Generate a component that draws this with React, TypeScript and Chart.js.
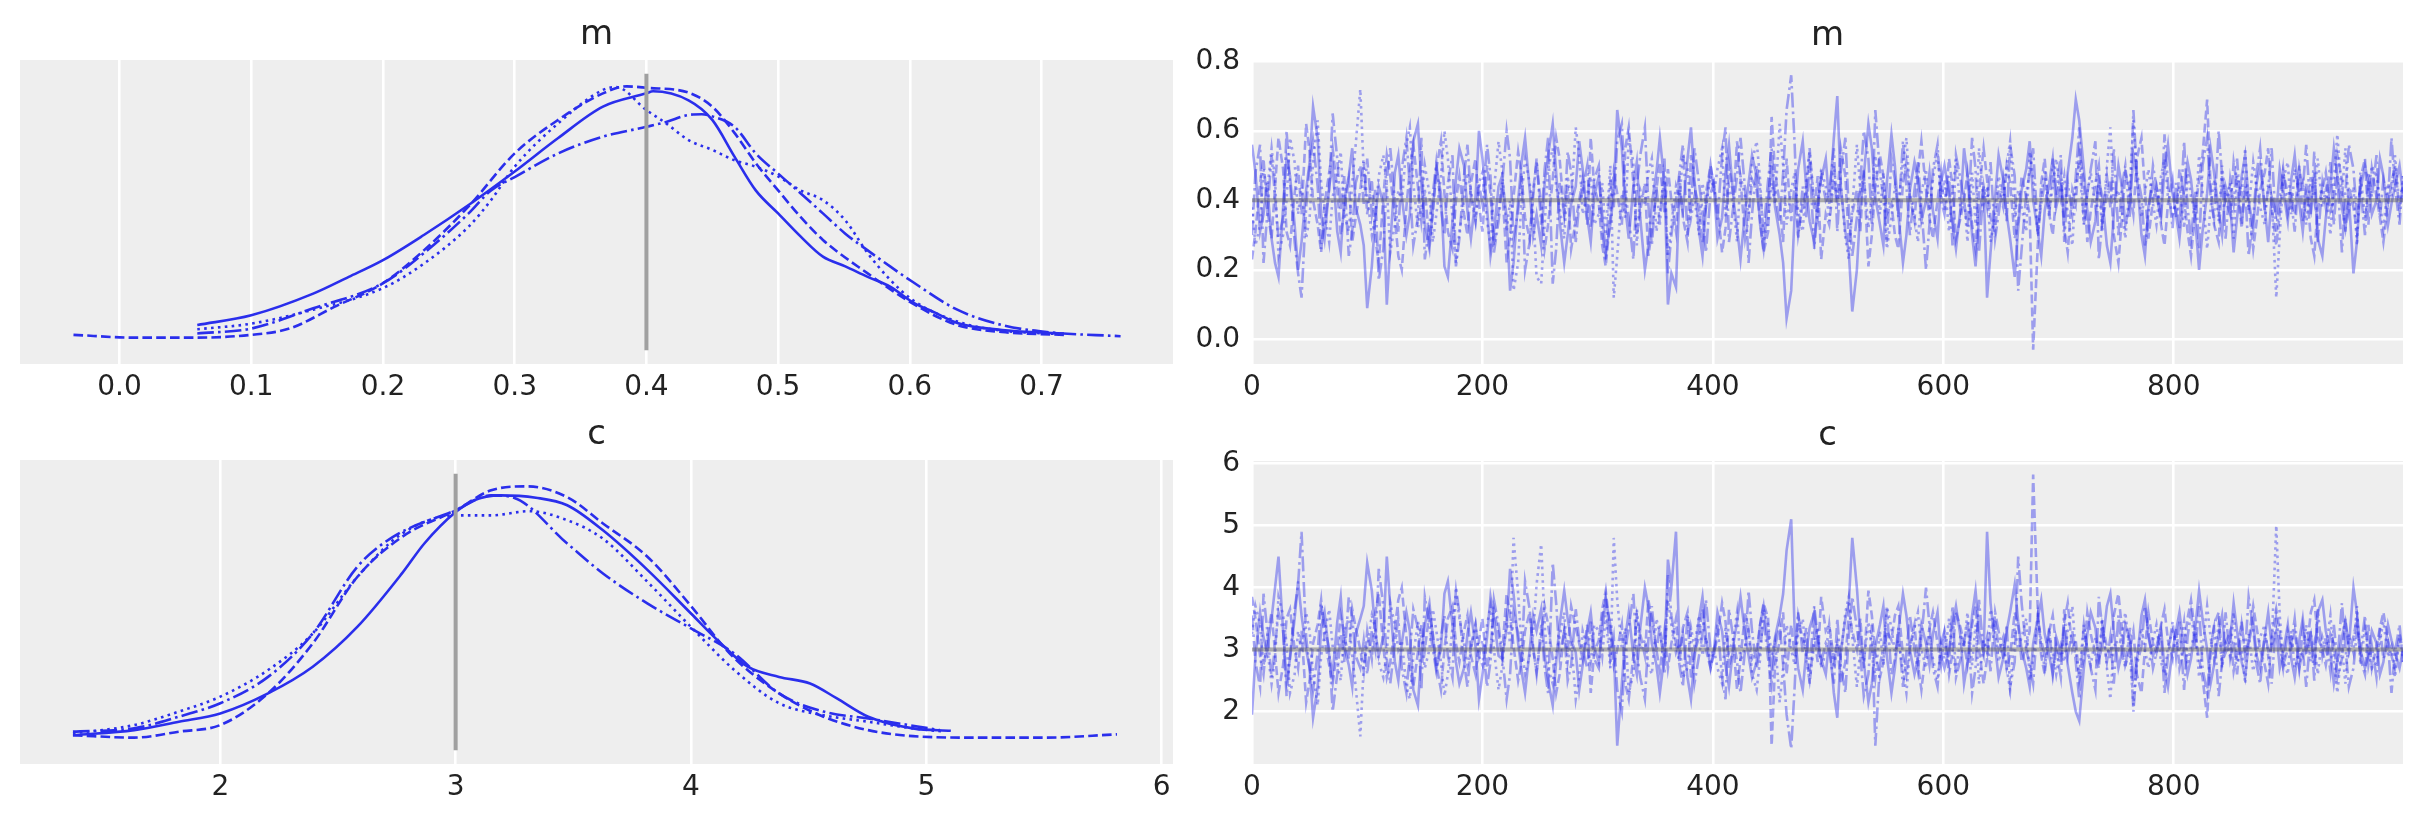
import React, { useEffect, useRef } from "react";
import { Chart, registerables } from "chart.js";

Chart.register(...registerables);

// ---------------- KDE of m (4 chains) ----------------
const kdeMX0 = [0.059, 0.10, 0.147, 0.174, 0.20, 0.231, 0.265, 0.30, 0.333, 0.367, 0.40, 0.405, 0.432, 0.45, 0.467, 0.483, 0.50, 0.517, 0.534, 0.551, 0.568, 0.585, 0.602, 0.62, 0.636, 0.67, 0.704, 0.717];
const kdeMY0 = [0.18, 0.32, 0.63, 0.87, 1.11, 1.47, 1.90, 2.38, 2.86, 3.31, 3.50, 3.53, 3.40, 3.12, 2.59, 2.11, 1.78, 1.45, 1.16, 1.02, 0.87, 0.73, 0.51, 0.35, 0.21, 0.11, 0.07, 0.06];
const kdeMX1 = [-0.035, 0.011, 0.059, 0.10, 0.129, 0.163, 0.20, 0.231, 0.265, 0.30, 0.333, 0.367, 0.385, 0.40, 0.432, 0.45, 0.467, 0.483, 0.50, 0.517, 0.534, 0.568, 0.602, 0.636, 0.67, 0.717];
const kdeMY1 = [0.04, 0.0, 0.0, 0.04, 0.13, 0.44, 0.78, 1.25, 1.88, 2.64, 3.12, 3.50, 3.60, 3.58, 3.51, 3.31, 2.93, 2.50, 2.11, 1.73, 1.40, 0.92, 0.49, 0.18, 0.08, 0.04];
const kdeMX2 = [0.059, 0.10, 0.147, 0.20, 0.231, 0.265, 0.282, 0.30, 0.333, 0.367, 0.377, 0.40, 0.415, 0.432, 0.45, 0.467, 0.483, 0.50, 0.517, 0.534, 0.551, 0.568, 0.585, 0.602, 0.636, 0.67, 0.704, 0.717];
const kdeMY2 = [0.12, 0.20, 0.40, 0.71, 1.06, 1.59, 1.97, 2.45, 3.07, 3.55, 3.59, 3.26, 3.07, 2.83, 2.69, 2.54, 2.45, 2.31, 2.11, 1.97, 1.68, 1.21, 0.83, 0.54, 0.23, 0.10, 0.06, 0.05];
const kdeMX3 = [0.059, 0.10, 0.147, 0.20, 0.231, 0.265, 0.282, 0.30, 0.333, 0.367, 0.40, 0.415, 0.432, 0.442, 0.45, 0.467, 0.483, 0.50, 0.517, 0.534, 0.551, 0.568, 0.585, 0.602, 0.636, 0.67, 0.704, 0.76];
const kdeMY3 = [0.06, 0.13, 0.42, 0.78, 1.21, 1.78, 2.11, 2.30, 2.64, 2.88, 3.02, 3.09, 3.19, 3.20, 3.17, 3.02, 2.64, 2.35, 2.07, 1.78, 1.49, 1.25, 1.02, 0.80, 0.40, 0.18, 0.08, 0.02];

// ---------------- KDE of c (4 chains) ----------------
const kdeCX0 = [1.374, 1.634, 1.824, 2.0, 2.203, 2.393, 2.582, 2.772, 2.867, 3.0, 3.076, 3.19, 3.341, 3.474, 3.626, 3.816, 4.0, 4.127, 4.241, 4.374, 4.506, 4.62, 4.753, 4.943, 5.104];
const kdeCY0 = [0.008, 0.025, 0.053, 0.081, 0.148, 0.237, 0.370, 0.549, 0.649, 0.754, 0.793, 0.810, 0.802, 0.777, 0.693, 0.560, 0.415, 0.315, 0.237, 0.203, 0.181, 0.131, 0.070, 0.031, 0.023];
const kdeCX1 = [1.374, 1.634, 1.824, 2.0, 2.203, 2.393, 2.582, 2.772, 3.0, 3.151, 3.303, 3.474, 3.626, 3.816, 4.0, 4.165, 4.374, 4.563, 4.753, 4.943, 5.227, 5.512, 5.81];
const kdeCY1 = [0.008, 0.0, 0.02, 0.042, 0.148, 0.315, 0.537, 0.671, 0.760, 0.827, 0.840, 0.804, 0.716, 0.604, 0.440, 0.281, 0.148, 0.070, 0.025, 0.005, 0.0, 0.0, 0.011];
const kdeCX2 = [1.374, 1.634, 1.824, 2.0, 2.203, 2.393, 2.582, 2.772, 3.0, 3.151, 3.313, 3.474, 3.626, 3.816, 4.0, 4.184, 4.374, 4.563, 4.753, 4.943, 5.075];
const kdeCY2 = [0.014, 0.042, 0.087, 0.137, 0.226, 0.348, 0.537, 0.682, 0.743, 0.743, 0.757, 0.727, 0.665, 0.52, 0.37, 0.226, 0.115, 0.075, 0.053, 0.031, 0.020];
const kdeCX3 = [1.374, 1.634, 1.824, 2.0, 2.203, 2.393, 2.582, 2.734, 3.0, 3.151, 3.247, 3.474, 3.626, 3.816, 4.0, 4.184, 4.374, 4.563, 4.753, 5.057];
const kdeCY3 = [0.020, 0.031, 0.070, 0.115, 0.203, 0.348, 0.571, 0.671, 0.760, 0.810, 0.802, 0.649, 0.549, 0.448, 0.365, 0.281, 0.148, 0.087, 0.064, 0.025];

// ---------------- Trace of m (sampled draws, 4 chains) ----------------
const traceM0 = [
  .56,.48,.31,.36,.45,.29,.22,.18,.38,.52,.47,.33,.20,.28,.43,.51,.67,.58,.36,.29,.44,.50,.31,.25,.40,.47,.55,.38,.33,.27,
  .09,.21,.35,.44,.39,.10,.27,.48,.53,.41,.30,.36,.57,.62,.45,.33,.26,.38,.49,.42,.21,.18,.34,.46,.55,.50,.37,.29,.41,.60,
  .52,.38,.24,.31,.44,.47,.35,.14,.22,.40,.51,.58,.43,.30,.36,.27,.45,.53,.62,.48,.34,.22,.30,.39,.44,.57,.49,.35,.28,.41,
  .47,.36,.25,.33,.42,.66,.55,.38,.29,.44,.51,.35,.20,.27,.39,.48,.58,.45,.10,.19,.15,.43,.37,.52,.61,.46,.31,.24,.38,.50,
  .43,.29,.35,.48,.56,.40,.32,.23,.37,.45,.53,.47,.33,.26,.41,.50,.38,.30,.22,.06,.14,.36,.49,.57,.44,.34,.28,.40,.46,.52,
  .39,.58,.70,.44,.31,.25,.08,.20,.38,.47,.62,.55,.41,.33,.27,.45,.59,.50,.36,.22,.30,.43,.51,.46,.34,.40,.48,.37,.29,.45,
  .50,.42,.33,.26,.38,.55,.47,.30,.21,.35,.44,.12,.25,.41,.53,.46,.36,.29,.18,.32,.43,.49,.57,.40,.31,.24,.37,.45,.52,.38,
  .44,.35,.48,.58,.69,.63,.49,.37,.28,.34,.46,.41,.27,.22,.36,.50,.44,.33,.39,.53,.47,.30,.24,.38,.45,.41,.35,.49,.56,.42,
  .36,.29,.43,.51,.46,.33,.20,.31,.42,.55,.48,.37,.30,.44,.39,.25,.35,.47,.53,.40,.32,.45,.50,.38,.28,.41,.36,.49,.43,.34,
  .46,.53,.39,.31,.42,.37,.48,.29,.24,.35,.44,.55,.47,.38,.32,.41,.19,.28,.43,.50,.45,.36,.40,.52,.47,.33,.39,.44,.50,.42,
];
const traceM1 = [
  .23,.31,.45,.52,.38,.29,.44,.58,.49,.31,.27,.42,.50,.36,.62,.54,.40,.33,.25,.39,.48,.55,.43,.30,.37,.46,.28,.35,.43,.51,
  .36,.46,.29,.22,.41,.53,.47,.35,.24,.20,.38,.49,.56,.44,.34,.43,.28,.36,.49,.57,.42,.31,.26,.40,.47,.36,.30,.45,.52,.39,
  .31,.50,.42,.27,.37,.45,.22,.30,.41,.54,.47,.35,.29,.43,.51,.38,.26,.33,.46,.58,.52,.36,.44,.26,.34,.40,.46,.33,.58,.44,
  .39,.27,.21,.35,.48,.42,.33,.55,.61,.45,.30,.37,.45,.24,.31,.43,.51,.36,.49,.40,.31,.47,.35,.28,.53,.44,.38,.28,.42,.50,
  .44,.38,.25,.32,.50,.41,.57,.46,.29,.35,.46,.43,.34,.25,.31,.64,.48,.39,.28,.52,.34,.45,.30,.39,.42,.55,.37,.47,.23,.36,
  .33,.46,.40,.55,.47,.28,.36,.43,.31,.49,.21,.30,.44,.53,.47,.36,.39,.30,.26,.45,.51,.41,.34,.48,.57,.43,.35,.29,.40,.48,
  .37,.52,.44,.29,.35,.40,.48,.33,.26,.42,.55,.46,.35,.31,.43,.38,.50,.45,.29,.34,.47,.41,.36,-.03,.27,.45,.52,.36,.30,.41,
  .47,.32,.25,.43,.39,.54,.46,.28,.37,.45,.50,.34,.41,.46,.30,.22,.35,.48,.43,.36,.52,.58,.43,.29,.40,.44,.33,.27,.39,.46,
  .35,.49,.41,.31,.24,.38,.46,.53,.69,.44,.33,.28,.47,.40,.36,.51,.44,.32,.45,.39,.26,.34,.43,.48,.55,.38,.27,.36,.48,.42,
  .42,.36,.50,.34,.45,.29,.24,.38,.43,.48,.37,.40,.53,.46,.31,.44,.38,.31,.46,.52,.33,.49,.41,.35,.28,.39,.45,.50,.37,.44,
];
const traceM2 = [
  .38,.27,.33,.49,.42,.55,.46,.24,.30,.40,.58,.51,.36,.44,.29,.35,.51,.63,.45,.37,.28,.41,.47,.54,.36,.31,.45,.56,.72,.48,
  .41,.30,.35,.47,.53,.44,.25,.33,.43,.39,.56,.61,.45,.32,.38,.50,.42,.28,.36,.47,.60,.52,.35,.22,.31,.40,.48,.43,.34,.45,
  .48,.34,.27,.43,.57,.49,.31,.40,.14,.22,.41,.52,.45,.37,.18,.16,.33,.49,.55,.44,.38,.29,.47,.39,.61,.53,.36,.42,.47,.33,
  .36,.45,.30,.50,.12,.24,.42,.35,.58,.51,.27,.43,.39,.48,.52,.31,.37,.46,.24,.33,.44,.40,.53,.49,.35,.41,.30,.45,.38,.47,
  .42,.49,.55,.35,.44,.38,.28,.47,.41,.36,.51,.57,.46,.28,.34,.45,.39,.62,.50,.33,.43,.48,.37,.31,.46,.54,.40,.35,.49,.44,
  .34,.50,.40,.45,.29,.23,.38,.56,.43,.47,.32,.41,.53,.36,.48,.26,.35,.44,.39,.51,.58,.42,.35,.28,.42,.49,.37,.46,.54,.40,
  .46,.31,.43,.52,.37,.41,.28,.48,.33,.55,.39,.44,.28,.36,.47,.40,.50,.57,.35,.43,.38,.31,.54,.46,.30,.41,.49,.37,.44,.52,
  .41,.47,.36,.27,.44,.51,.33,.42,.48,.38,.45,.31,.50,.61,.40,.43,.37,.29,.45,.63,.46,.35,.42,.49,.39,.33,.47,.52,.41,.36,
  .39,.44,.32,.48,.41,.36,.53,.43,.26,.38,.46,.34,.50,.40,.45,.29,.47,.42,.55,.37,.51,.44,.38,.33,.45,.41,.12,.30,.46,.51,
  .36,.49,.42,.45,.33,.47,.40,.52,.38,.43,.30,.46,.59,.41,.55,.37,.44,.27,.48,.35,.43,.50,.47,.39,.32,.45,.41,.53,.38,.47,
];
const traceM3 = [
  .30,.48,.56,.22,.35,.53,.41,.29,.35,.60,.45,.28,.19,.12,.38,.50,.57,.44,.26,.33,.43,.65,.52,.37,.47,.24,.31,.45,.50,.39,
  .52,.36,.43,.17,.26,.46,.55,.40,.31,.49,.58,.44,.27,.35,.58,.23,.33,.42,.51,.38,.30,.45,.53,.21,.29,.47,.56,.41,.34,.45,
  .39,.56,.47,.25,.34,.44,.60,.52,.29,.37,.47,.20,.28,.41,.52,.33,.49,.58,.16,.26,.45,.36,.54,.48,.28,.39,.43,.50,.32,.46,
  .50,.31,.23,.46,.38,.57,.62,.42,.35,.23,.44,.53,.61,.39,.27,.44,.33,.52,.19,.30,.40,.48,.56,.30,.38,.55,.45,.37,.25,.42,
  .45,.34,.53,.61,.28,.39,.47,.58,.43,.22,.36,.50,.43,.31,.46,.55,.41,.34,.48,.66,.76,.56,.29,.44,.35,.51,.26,.38,.47,.40,
  .42,.55,.31,.48,.58,.37,.24,.35,.45,.60,.52,.33,.66,.48,.41,.28,.52,.46,.35,.57,.44,.30,.43,.51,.38,.20,.33,.49,.56,.40,
  .36,.47,.27,.53,.46,.40,.32,.58,.49,.25,.44,.38,.51,.29,.36,.46,.34,.56,.47,.14,.26,.42,.48,.55,.31,.39,.45,.35,.52,.43,
  .53,.28,.45,.36,.47,.61,.33,.42,.49,.57,.23,.34,.47,.38,.55,.30,.44,.50,.35,.66,.48,.41,.27,.36,.50,.44,.37,.59,.45,.32,
  .45,.32,.57,.38,.29,.43,.26,.50,.58,.41,.35,.60,.47,.29,.46,.39,.52,.33,.44,.24,.35,.48,.55,.37,.43,.55,.31,.40,.49,.36,
  .40,.31,.49,.43,.56,.36,.54,.28,.45,.38,.51,.33,.47,.25,.42,.56,.49,.36,.44,.30,.48,.41,.53,.35,.46,.40,.58,.44,.33,.47,
];

// ---------------- Trace of c (sampled draws, 4 chains) ----------------
const traceC0 = [
  1.95,2.9,3.6,3.2,2.95,3.5,4.0,4.5,3.3,2.5,2.85,3.5,4.1,3.55,3.0,2.7,1.9,2.4,3.35,3.6,2.9,2.6,3.45,3.85,3.05,2.75,2.4,3.25,3.5,3.7,
  4.4,3.95,3.3,2.9,3.2,4.5,3.7,2.8,2.5,3.1,3.6,3.3,2.35,2.1,2.95,3.4,3.75,3.2,2.7,3.0,3.9,4.1,3.4,2.8,2.45,2.7,3.25,3.6,3.05,2.2,
  2.6,3.2,3.85,3.5,2.9,2.85,3.35,4.3,3.9,3.1,2.65,2.3,3.0,3.55,3.3,3.65,2.9,2.5,2.1,2.8,3.4,3.95,3.5,3.15,2.95,2.35,2.75,3.3,3.6,3.05,
  2.8,3.3,3.8,3.4,3.0,1.45,2.45,3.2,3.6,2.9,2.6,3.35,4.0,3.7,3.1,2.75,2.3,2.9,4.45,4.0,4.9,3.0,3.25,2.55,2.2,2.85,3.5,3.85,3.2,2.7,
  3.0,3.6,3.3,2.75,2.4,3.1,3.45,3.85,3.25,2.9,2.55,2.8,3.4,3.7,3.05,2.7,3.2,3.55,3.9,4.6,5.1,3.3,2.7,2.35,2.95,3.35,3.6,3.1,2.85,2.6,
  3.15,2.3,1.9,2.95,3.5,3.75,4.8,4.0,3.2,2.8,2.15,2.45,3.05,3.4,3.7,2.9,2.3,2.7,3.3,3.9,3.55,3.0,2.6,2.85,3.4,3.1,2.75,3.25,3.6,2.9,
  2.7,3.0,3.4,3.7,3.2,2.45,2.8,3.55,3.95,3.3,2.95,4.9,3.75,3.05,2.55,2.85,3.3,3.6,4.05,3.45,3.0,2.7,2.4,3.1,3.5,3.8,3.25,2.9,2.6,3.2,
  2.95,3.3,2.75,2.3,2.0,1.85,2.7,3.25,3.6,3.35,2.85,3.05,3.7,3.9,3.3,2.7,2.95,3.4,3.15,2.55,2.8,3.55,3.8,3.2,2.9,3.05,3.35,2.7,2.4,3.0,
  3.3,3.6,3.0,2.6,2.85,3.4,3.95,3.5,3.0,2.45,2.75,3.25,3.55,2.95,3.15,3.75,3.3,2.8,2.55,3.1,3.45,2.9,2.7,3.2,3.6,3.05,3.3,2.7,2.95,3.4,
  2.85,2.55,3.15,3.5,3.0,3.25,2.75,3.6,3.8,3.3,2.95,2.45,2.8,3.2,3.45,3.05,4.0,3.6,3.0,2.7,2.9,3.3,3.1,2.6,2.8,3.4,3.15,2.95,2.7,3.0,
];
const traceC1 = [
  3.85,3.5,2.9,2.6,3.2,3.6,2.95,2.3,2.75,3.5,3.65,3.0,2.7,3.3,2.15,2.5,3.1,3.4,3.8,3.15,2.75,2.45,3.0,3.55,3.25,2.85,3.65,3.35,3.0,2.65,
  3.3,2.85,3.6,3.9,3.05,2.55,2.8,3.35,3.8,4.0,3.2,2.7,2.4,2.95,3.4,3.0,3.6,3.25,2.75,2.35,3.0,3.5,3.7,3.1,2.8,3.3,3.55,2.9,2.6,3.15,
  3.5,2.7,3.0,3.65,3.25,2.9,3.9,3.55,3.05,2.5,2.8,3.3,3.6,3.0,2.65,3.2,3.7,3.4,2.85,2.3,2.6,3.3,2.95,3.7,3.35,3.1,2.85,3.4,2.3,2.95,
  3.15,3.65,3.95,3.3,2.75,3.0,3.4,2.45,2.2,2.9,3.55,3.25,2.9,3.8,3.5,3.0,2.65,3.3,2.7,3.1,3.5,2.8,3.35,3.6,2.55,2.95,3.2,3.65,3.0,2.7,
  2.95,3.2,3.75,3.45,2.7,3.05,2.35,2.85,3.6,3.3,2.85,3.0,3.4,3.75,3.5,1.45,2.75,3.15,3.6,2.6,3.4,2.9,3.55,3.15,3.0,2.45,3.25,2.8,3.85,3.3,
  3.4,2.85,3.1,2.45,2.8,3.6,3.3,3.0,3.5,2.7,3.95,3.55,2.95,2.55,2.8,3.3,3.15,3.55,3.7,2.9,2.6,3.05,3.4,2.75,2.35,3.0,3.35,3.6,3.1,2.75,
  3.25,2.6,2.95,3.6,3.35,3.1,2.75,3.4,3.7,3.0,2.45,2.85,3.3,3.5,3.0,3.2,2.7,2.9,3.6,3.4,2.8,3.05,3.3,5.82,3.65,2.9,2.6,3.3,3.55,3.05,
  2.8,3.45,3.75,3.0,3.15,2.5,2.85,3.6,3.25,2.9,2.7,3.4,3.05,2.85,3.55,3.9,3.35,2.75,3.0,3.3,2.6,2.3,3.0,3.6,3.1,2.95,3.4,3.65,3.15,2.85,
  3.35,2.7,3.05,3.5,3.8,3.2,2.85,2.55,1.9,2.95,3.4,3.6,2.8,3.1,3.3,2.65,2.95,3.45,2.9,3.15,3.7,3.35,3.0,2.75,2.45,3.2,3.65,3.3,2.75,3.0,
  3.0,3.3,2.7,3.35,2.9,3.6,3.8,3.2,3.0,2.75,3.25,3.1,2.55,2.85,3.5,2.95,3.2,3.5,2.85,2.6,3.4,2.7,3.05,3.35,3.6,3.15,2.9,2.7,3.25,2.95,
];
const traceC2 = [
  3.25,3.7,3.4,2.75,3.05,2.45,2.85,3.85,3.55,3.1,2.3,2.6,3.3,2.95,3.6,3.3,2.6,2.1,2.9,3.25,3.65,3.05,2.8,2.5,3.3,3.5,2.9,2.4,1.6,2.75,
  3.05,3.55,3.35,2.8,2.55,2.95,3.75,3.4,3.0,3.15,2.4,2.2,2.9,3.45,3.2,2.7,3.0,3.65,3.3,2.8,2.25,2.6,3.35,3.95,3.5,3.1,2.75,3.0,3.4,2.9,
  2.75,3.4,3.7,3.0,2.35,2.7,3.5,3.1,4.8,3.9,3.05,2.6,2.9,3.25,4.05,4.7,3.4,2.7,2.45,2.95,3.2,3.6,2.8,3.15,2.2,2.55,3.3,3.0,2.8,3.4,
  3.3,2.9,3.55,2.7,4.8,3.8,3.0,3.35,2.3,2.6,3.65,3.0,3.15,2.75,2.6,3.5,3.25,2.85,3.8,3.4,2.95,3.1,2.55,2.7,3.35,3.05,3.55,2.9,3.2,2.8,
  3.0,2.7,2.45,3.35,2.95,3.2,3.6,2.8,3.05,3.3,2.6,2.35,2.85,3.65,3.4,2.9,3.15,2.15,2.7,3.4,3.0,2.75,3.25,3.5,2.85,2.5,3.1,3.35,2.7,2.95,
  3.4,2.7,3.1,2.9,3.6,3.85,3.2,2.4,3.0,2.8,3.45,3.05,2.55,3.3,2.75,3.7,3.35,2.95,3.15,2.65,2.3,3.0,3.35,3.6,3.0,2.7,3.25,2.85,2.5,3.1,
  2.85,3.5,3.0,2.6,3.25,3.05,3.6,2.75,3.4,2.45,3.15,2.95,3.65,3.3,2.8,3.1,2.7,2.35,3.35,3.0,3.2,3.5,2.5,2.85,3.55,3.05,2.7,3.25,2.95,2.6,
  3.05,2.8,3.3,3.7,2.95,2.6,3.4,3.0,2.75,3.2,2.9,3.5,2.7,2.2,3.1,3.0,3.25,3.6,2.9,2.1,2.85,3.35,3.0,2.7,3.15,3.4,2.8,2.6,3.05,3.3,
  3.15,2.95,3.45,2.75,3.05,3.3,2.55,3.0,3.7,3.2,2.85,3.4,2.7,3.1,2.9,3.6,2.8,3.0,2.45,3.25,2.65,2.95,3.2,3.4,2.9,3.05,5.0,3.55,2.85,2.6,
  3.3,2.7,3.0,2.9,3.4,2.8,3.1,2.6,3.2,3.0,3.55,2.85,2.3,3.05,2.45,3.25,2.95,3.7,2.75,3.35,3.0,2.7,2.8,3.15,3.45,2.9,3.05,2.55,3.2,2.8,
];
const traceC3 = [
  3.55,2.8,2.4,3.9,3.35,2.55,3.05,3.6,3.3,2.25,2.9,3.65,4.05,4.9,3.2,2.7,2.35,2.95,3.75,3.4,3.0,2.0,2.6,3.25,2.8,3.85,3.5,2.9,2.7,3.15,
  2.6,3.3,3.0,4.3,3.7,2.85,2.45,3.1,3.5,2.7,2.3,2.95,3.65,3.35,2.35,3.85,3.4,3.0,2.65,3.2,3.55,2.9,2.55,4.0,3.6,2.8,2.4,3.05,3.4,2.9,
  3.15,2.4,2.8,3.8,3.4,2.95,2.2,2.6,3.6,3.25,2.8,4.1,3.65,3.05,2.6,3.4,2.7,2.3,4.4,3.75,2.9,3.3,2.5,2.75,3.65,3.15,3.0,2.7,3.45,2.85,
  2.7,3.5,3.85,2.85,3.2,2.35,2.0,3.0,3.35,3.9,2.95,2.55,2.2,3.15,3.7,2.95,3.4,2.6,4.2,3.55,3.1,2.75,2.4,3.55,3.2,2.45,2.9,3.25,3.8,3.0,
  2.9,3.4,2.55,2.2,3.65,3.15,2.8,2.3,3.0,3.95,3.3,2.7,3.0,3.5,2.85,2.45,3.05,3.4,2.75,1.95,1.4,2.4,3.6,2.95,3.35,2.65,3.7,3.2,2.8,3.1,
  3.0,2.45,3.5,2.75,2.3,3.25,3.85,3.35,2.9,2.25,2.6,3.4,1.45,2.75,3.05,3.65,2.6,2.85,3.35,2.4,2.95,3.55,3.0,2.65,3.2,4.0,3.4,2.7,2.4,3.1,
  3.3,2.8,3.7,2.55,2.85,3.1,3.45,2.3,2.7,3.8,2.95,3.2,2.65,3.6,3.3,2.85,3.4,2.4,2.8,4.5,3.75,3.0,2.75,2.45,3.5,3.15,2.9,3.35,2.6,3.0,
  2.55,3.65,2.9,3.3,2.8,2.2,3.4,3.0,2.7,2.35,3.85,3.35,2.8,3.2,2.45,3.55,2.95,2.7,3.35,2.0,2.75,3.05,3.7,3.3,2.7,2.95,3.25,2.3,2.9,3.45,
  2.9,3.45,2.35,3.2,3.6,3.0,3.7,2.7,2.3,3.05,3.35,2.25,2.8,3.6,2.85,3.15,2.6,3.4,2.95,3.85,3.35,2.75,2.45,3.25,3.0,2.45,3.5,3.1,2.7,3.3,
  3.1,3.5,2.7,3.0,2.4,3.3,2.5,3.65,2.9,3.2,2.65,3.4,2.8,3.75,3.05,2.4,2.7,3.3,2.95,3.55,2.75,3.05,2.55,3.35,2.85,3.1,2.3,2.95,3.4,2.8,
];

// ---------------- Axes / reference values ----------------
const lastDraw = 999;
const refM = 0.4;
const refC = 3;
const kdeMTicks = [0, 0.1, 0.2, 0.3, 0.4, 0.5, 0.6, 0.7];
const kdeCTicks = [2, 3, 4, 5, 6];
const traceXTicks = [0, 200, 400, 600, 800];
const traceMTicks = [0, 0.2, 0.4, 0.6, 0.8];
const traceCTicks = [2, 3, 4, 5, 6];

const BLUE = "#2a2eec";
const TRACE_BLUE = "rgba(42,46,236,0.42)";
const FONT = "DejaVu Sans";
const TEXT = "#222222";

const kdeDash = [[], [9.6, 4.2], [2.6, 4.3], [16.6, 4.2, 2.6, 4.2]];
const traceDash = [[], [9, 4], [2.6, 4.2], [15, 4, 2.6, 4]];

const decor = {
  id: "panelDecor",
  beforeDraw(chart: any, _args: any, opts: any) {
    const { ctx, chartArea: a } = chart;
    ctx.save();
    ctx.fillStyle = "#eeeeee";
    ctx.fillRect(a.left, a.top, a.right - a.left, a.bottom - a.top);
    ctx.fillStyle = TEXT;
    ctx.font = `34px "${FONT}"`;
    ctx.textAlign = "center";
    ctx.textBaseline = "alphabetic";
    ctx.fillText(opts.title, (a.left + a.right) / 2, a.top - 16);
    ctx.restore();
  },
};

function pts(xs: number[], ys: number[]) {
  return xs.map((x, i) => ({ x, y: ys[i] }));
}

function drawIndex(n: number) {
  return Array.from({ length: n }, (_, i) => Math.round((i * lastDraw) / (n - 1)));
}

function tickFont() {
  return { family: FONT, size: 28 };
}

function kdeConfig(title: string, xs: number[][], ys: number[][], ref: number, xMin: number, xMax: number, ticks: number[], dec: number): any {
  const all = ys.flat();
  const lo = Math.min(...all);
  const hi = Math.max(...all);
  const vlo = lo - 0.05 * (hi - lo);
  const vhi = hi + 0.05 * (hi - lo);
  const yMin = vlo - 0.05 * (vhi - vlo);
  const yMax = vhi + 0.05 * (vhi - vlo);
  const datasets: any[] = xs.map((x, i) => ({
    data: pts(x, ys[i]),
    borderColor: BLUE,
    borderWidth: 2.6,
    borderDash: kdeDash[i],
    pointRadius: 0,
    fill: false,
    cubicInterpolationMode: "monotone",
    order: 1,
  }));
  datasets.push({
    data: [{ x: ref, y: vlo }, { x: ref, y: vhi }],
    borderColor: "#a0a0a0",
    borderWidth: 4,
    pointRadius: 0,
    fill: false,
    order: -1,
  });
  return {
    type: "line",
    data: { datasets },
    plugins: [decor],
    options: {
      responsive: false,
      animation: false,
      events: [],
      layout: { padding: { left: 20, top: 60, right: 38, bottom: 0 } },
      plugins: { legend: { display: false }, tooltip: { enabled: false }, panelDecor: { title } },
      scales: {
        x: {
          type: "linear",
          min: xMin,
          max: xMax,
          afterBuildTicks: (s: any) => { s.ticks = ticks.map((v) => ({ value: v })); },
          afterFit: (s: any) => { s.height = 36; },
          grid: { color: "#ffffff", lineWidth: 2.6, drawTicks: false },
          border: { display: false },
          ticks: { padding: 7, color: TEXT, font: tickFont(), maxRotation: 0, autoSkip: false, callback: (v: any) => Number(v).toFixed(dec) },
        },
        y: { display: false, min: yMin, max: yMax },
      },
    },
  };
}

function traceConfig(title: string, series: number[][], ref: number, yMin: number, yMax: number, yTicks: number[], dec: number): any {
  const datasets: any[] = series.map((s, i) => ({
    data: pts(drawIndex(s.length), s),
    borderColor: TRACE_BLUE,
    borderWidth: 2.6,
    borderDash: traceDash[i],
    pointRadius: 0,
    fill: false,
    tension: 0,
    order: 1,
  }));
  datasets.push({
    data: [{ x: 0, y: ref }, { x: lastDraw, y: ref }],
    borderColor: "rgba(90,90,90,0.5)",
    borderWidth: 4,
    pointRadius: 0,
    fill: false,
    order: -1,
  });
  return {
    type: "line",
    data: { datasets },
    plugins: [decor],
    options: {
      responsive: false,
      animation: false,
      events: [],
      layout: { padding: { left: 0, top: 61, right: 20, bottom: 0 } },
      plugins: { legend: { display: false }, tooltip: { enabled: false }, panelDecor: { title } },
      scales: {
        x: {
          type: "linear",
          min: 0,
          max: lastDraw,
          afterBuildTicks: (s: any) => { s.ticks = traceXTicks.map((v) => ({ value: v })); },
          afterFit: (s: any) => { s.height = 36; },
          grid: { color: "#ffffff", lineWidth: 2.6, drawTicks: false },
          border: { display: false },
          ticks: { padding: 7, color: TEXT, font: tickFont(), maxRotation: 0, autoSkip: false, callback: (v: any) => Number(v).toFixed(0) },
        },
        y: {
          type: "linear",
          min: yMin,
          max: yMax,
          afterBuildTicks: (s: any) => { s.ticks = yTicks.map((v) => ({ value: v })); },
          afterFit: (s: any) => { s.width = 72; },
          grid: { color: "#ffffff", lineWidth: 2.6, drawTicks: false },
          border: { display: false },
          ticks: { padding: 12, color: TEXT, font: tickFont(), autoSkip: false, callback: (v: any) => Number(v).toFixed(dec) },
        },
      },
    },
  };
}

function Panel({ left, top, width, height, make }: { left: number; top: number; width: number; height: number; make: () => any }) {
  const ref = useRef<HTMLCanvasElement>(null);
  useEffect(() => {
    const chart = new Chart(ref.current as HTMLCanvasElement, make());
    return () => chart.destroy();
  }, []);
  return <canvas ref={ref} width={width} height={height} style={{ position: "absolute", left, top, width, height }} />;
}

export default function App() {
  useEffect(() => {
    document.body.style.margin = "0";
  }, []);
  return (
    <div style={{ position: "absolute", left: 0, top: 0, width: 2423, height: 823, background: "#ffffff", overflow: "hidden" }}>
      <Panel left={0} top={0} width={1211} height={400}
        make={() => kdeConfig("m", [kdeMX0, kdeMX1, kdeMX2, kdeMX3], [kdeMY0, kdeMY1, kdeMY2, kdeMY3], refM, -0.0756, 0.7998, kdeMTicks, 1)} />
      <Panel left={1180} top={0} width={1243} height={400}
        make={() => traceConfig("m", [traceM0, traceM1, traceM2, traceM3], refM, -0.071, 0.801, traceMTicks, 1)} />
      <Panel left={0} top={400} width={1211} height={400}
        make={() => kdeConfig("c", [kdeCX0, kdeCX1, kdeCX2, kdeCX3], [kdeCY0, kdeCY1, kdeCY2, kdeCY3], refC, 1.149, 6.048, kdeCTicks, 0)} />
      <Panel left={1180} top={400} width={1243} height={400}
        make={() => traceConfig("c", [traceC0, traceC1, traceC2, traceC3], refC, 1.155, 6.04, traceCTicks, 0)} />
    </div>
  );
}
